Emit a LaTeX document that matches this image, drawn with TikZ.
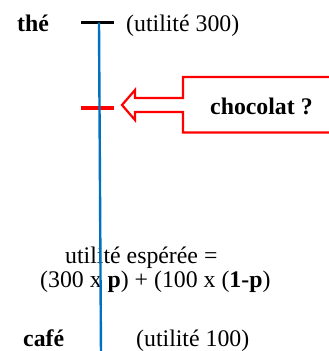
\documentclass[tikz,border=0pt]{standalone}
\usepackage{fontspec}
\setmainfont{Liberation Serif}
\definecolor{lineblue}{RGB}{0,112,192}
\definecolor{callred}{RGB}{255,0,0}
\begin{document}
\begin{tikzpicture}[x=1pt,y=-1pt,
  lbl/.style={anchor=base west,inner sep=0pt,font=\fontsize{23.8}{28}\selectfont},
  blbl/.style={lbl,font=\fontsize{23.8}{28}\selectfont\bfseries},
  tick/.style={line width=3.2pt},
  callout/.style={draw=callred,line width=2.2pt,fill=white,line join=miter}]
\useasboundingbox (0,0) rectangle (329,351);
\clip (0,0) rectangle (329,351);
% texts
\node[blbl] (the) at (17,31.5) {thé};
\node[lbl] (u300) at (126,31.5) {(utilité 300)};
\node[lbl] (ue1) at (65,263) {utilité espérée =};
\node[lbl] (ue2) at (40,287) {(300 x \textbf{p}) + (100 x (\textbf{1-p})};
\node[blbl] (cafe) at (23,346) {café};
\node[lbl] (u100) at (136,346) {(utilité 100)};
% callout
\draw[callout] (340,77) -- (183,77) -- (183,98) -- (135,98) -- (135,90) -- (122,105)
  -- (135,120) -- (135,112) -- (183,112) -- (183,132.5) -- (340,132.5);
\node[blbl] (choc) at (210,114) {chocolat ?};
% axis
\coordinate (top) at (99,22.5);
\coordinate (bot) at (101,355);
\coordinate (mid) at (99.6,108);
\draw[tick,black] (81,22.5) -- (114,22.5);
\draw[tick,callred] (81,108) -- (114,108);
\draw[lineblue,line width=2.4pt] (top) -- (bot);
\end{tikzpicture}
\end{document}
